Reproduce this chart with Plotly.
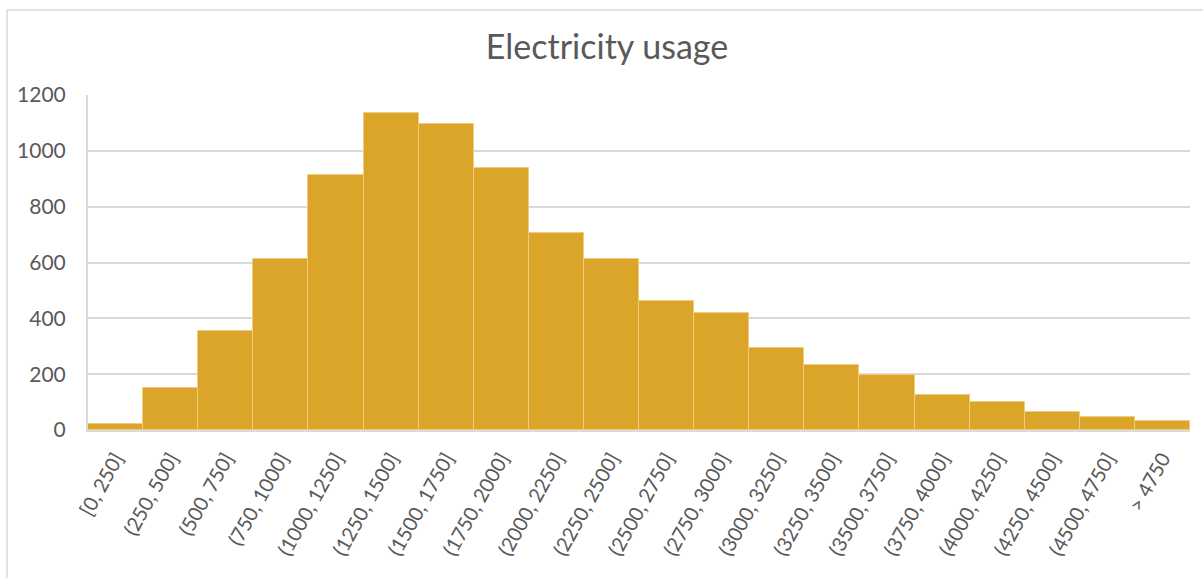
import plotly.graph_objects as go

# Histogram bins and counts of electricity usage
bins = ["[0, 250]", "(250, 500]", "(500, 750]", "(750, 1000]", "(1000, 1250]",
        "(1250, 1500]", "(1500, 1750]", "(1750, 2000]", "(2000, 2250]", "(2250, 2500]",
        "(2500, 2750]", "(2750, 3000]", "(3000, 3250]", "(3250, 3500]", "(3500, 3750]",
        "(3750, 4000]", "(4000, 4250]", "(4250, 4500]", "(4500, 4750]", "> 4750"]
counts = [20, 150, 356, 611, 914, 1136, 1097, 937, 707, 612,
          462, 420, 295, 234, 198, 124, 99, 63, 47, 33]
y_ticks = [0, 200, 400, 600, 800, 1000, 1200]

W, H = 1203, 578
L, R, T, B = 88, 13, 95, 148
FONT = "Lato, 'Open Sans', sans-serif"
GREY = "#595959"
GRID = "#D9D9D9"

fig = go.Figure(go.Bar(
    x=bins, y=counts,
    marker=dict(color="#DBA529", line=dict(color="#F0CD7E", width=1)),
    hoverinfo="x+y",
))

pw, ph = W - L - R, H - T - B
fig.update_layout(
    width=W, height=H,
    margin=dict(l=L, r=R, t=T, b=B),
    paper_bgcolor="white", plot_bgcolor="white",
    bargap=0,
    showlegend=False,
    title=dict(text="Electricity usage", x=607 / W, xref="container", xanchor="center",
               y=1 - 47 / H, yref="container", yanchor="middle",
               font=dict(family=FONT, size=34, color=GREY)),
    font=dict(family=FONT, color=GREY),
    xaxis=dict(type="category", tickangle=-61, tickfont=dict(size=20, color=GREY),
               showline=True, linecolor=GRID, linewidth=2, showgrid=False,
               ticks="", ticklabelstandoff=7),
    yaxis=dict(range=[0, 1200], tickvals=y_ticks, tickfont=dict(size=21, color=GREY),
               showgrid=True, gridcolor=GRID, gridwidth=2,
               showline=True, linecolor=GRID, linewidth=2,
               zeroline=False, ticks="", ticklabelstandoff=16),
    shapes=[
        # outer chart frame: left and top edges
        dict(type="line", xref="paper", yref="paper",
             x0=(7 - L) / pw, x1=(7 - L) / pw, y0=(H - B - 10) / ph, y1=-(B + 5) / ph,
             line=dict(color=GRID, width=1.5)),
        dict(type="line", xref="paper", yref="paper",
             x0=(7 - L) / pw, x1=(W + 5 - L) / pw, y0=(H - B - 10) / ph, y1=(H - B - 10) / ph,
             line=dict(color=GRID, width=1.5)),
    ],
)

fig.write_html("out.html")
